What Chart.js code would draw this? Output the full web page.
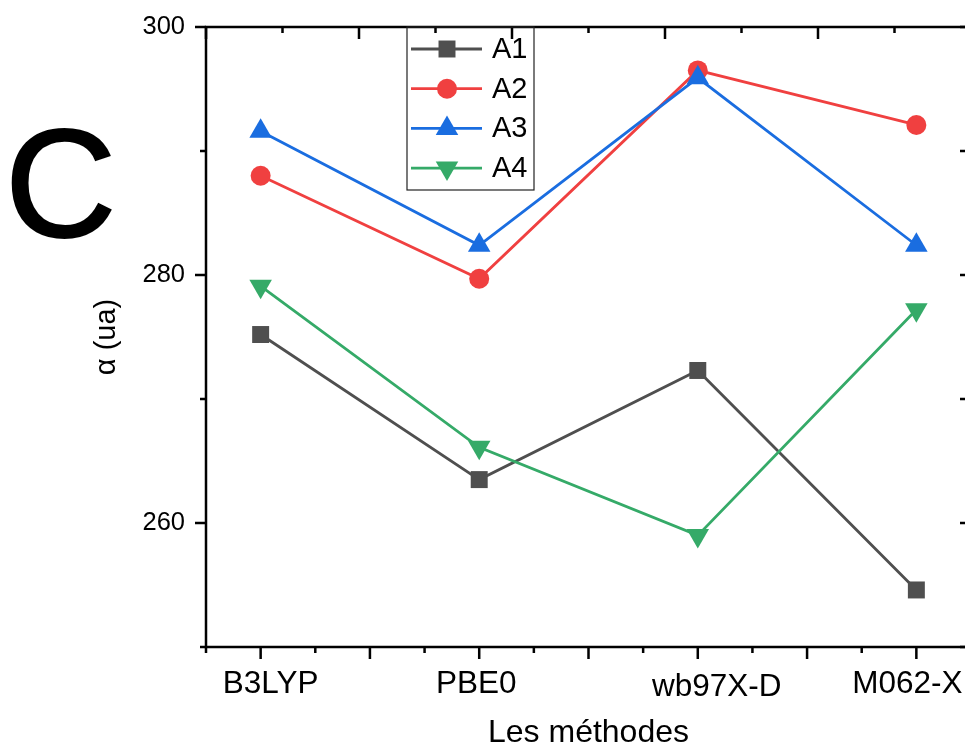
<!DOCTYPE html>
<html><head><meta charset="utf-8">
<script src="https://cdn.jsdelivr.net/npm/chart.js@4.4.0/dist/chart.umd.min.js"></script>
<style>
html,body{margin:0;padding:0;background:#fff;overflow:hidden;width:965px;height:749px;}
#wrap{position:relative;width:975px;height:749px;}
#panel{position:absolute;left:5px;top:107px;font:154px/1 'Liberation Sans',Arial,sans-serif;color:#000;-webkit-text-stroke:2.2px #000;}
canvas{position:absolute;left:0;top:0;}
</style></head><body>
<div id="wrap"><canvas id="c" width="975" height="749"></canvas><div id="panel">C</div></div>
<script>
const categories = ['B3LYP', 'PBE0', 'wb97X-D', 'M062-X'];
const seriesNames = ['A1', 'A2', 'A3', 'A4'];
const a1 = [275.2, 263.5, 272.3, 254.6];
const a2 = [288.0, 279.7, 296.5, 292.1];
const a3 = [291.6, 282.4, 295.9, 282.4];
const a4 = [279.1, 266.1, 259.0, 277.2];
const yTickLabels = [260, 280, 300];
const xTitle = 'Les méthodes';
const yTitle = 'α (ua)';

// small per-label nudges (px) of the category labels, as placed in the original
const xLabelDx = [10, -3, 19, -9];
const xLabelDy = [0, 0, 3, 0];

const colors = ['#4f4f4f', '#f04040', '#1a6de0', '#35aa68'];
const styles = [
  {pointStyle: 'rect', radius: 12, rotation: 0},
  {pointStyle: 'circle', radius: 10, rotation: 0},
  {pointStyle: 'triangle', radius: 13, rotation: 0},
  {pointStyle: 'triangle', radius: 13, rotation: 180}
];
const FONT = "'Liberation Sans', Arial, sans-serif";
Chart.defaults.font.family = FONT;
Chart.defaults.color = '#000';

const allSeries = [a1, a2, a3, a4];
const datasets = allSeries.map((vals, k) => ({
  label: seriesNames[k],
  data: vals.map((v, i) => ({x: i, y: v})),
  borderColor: colors[k],
  backgroundColor: colors[k],
  borderWidth: 2.8,
  pointStyle: styles[k].pointStyle,
  pointRadius: styles[k].radius,
  pointHoverRadius: styles[k].radius,
  pointRotation: styles[k].rotation,
  pointBorderWidth: 0,
  pointBackgroundColor: colors[k],
  tension: 0,
  order: 4 - k,
  clip: false
}));

function marker(ctx, style, x, y, color) {
  const r = style.radius;
  ctx.fillStyle = color;
  ctx.beginPath();
  if (style.pointStyle === 'circle') {
    ctx.arc(x, y, r, 0, Math.PI * 2);
  } else if (style.pointStyle === 'rect') {
    const s = r * Math.SQRT1_2;
    ctx.rect(x - s, y - s, 2 * s, 2 * s);
  } else {
    let rad = style.rotation * Math.PI / 180;
    ctx.moveTo(x + Math.sin(rad) * r, y - Math.cos(rad) * r);
    rad += 2 * Math.PI / 3;
    ctx.lineTo(x + Math.sin(rad) * r, y - Math.cos(rad) * r);
    rad += 2 * Math.PI / 3;
    ctx.lineTo(x + Math.sin(rad) * r, y - Math.cos(rad) * r);
    ctx.closePath();
  }
  ctx.fill();
}

const labelNudge = {
  id: 'labelNudge',
  beforeDraw(chart) {
    const xs = chart.scales.x;
    if (typeof xs._computeLabelItems !== 'function') return;
    const items = xs._computeLabelItems(chart.chartArea);
    items.forEach((it, i) => {
      const t = it.options && it.options.translation;
      if (t) { t[0] += xLabelDx[i] || 0; t[1] += xLabelDy[i] || 0; }
    });
    xs._labelItems = items;
  }
};

const framePlugin = {
  id: 'frame',
  afterDraw(chart) {
    const {ctx, chartArea: a, scales} = chart;
    const xs = scales.x, ys = scales.y, xt = scales.xTop;
    ctx.save();
    ctx.strokeStyle = '#000';
    ctx.lineWidth = 2.5;
    ctx.strokeRect(a.left, a.top, a.right - a.left, a.bottom - a.top);
    ctx.beginPath();
    for (let k = 0; ; k++) {
      const v = xs.min + k * 0.25;
      if (v > xs.max + 1e-9) break;
      const p = xs.getPixelForValue(v);
      const major = Math.abs(v * 2 - Math.round(v * 2)) < 1e-6;
      ctx.moveTo(p, a.bottom);
      ctx.lineTo(p, a.bottom + (major ? 12 : 6));
    }
    for (let v = xt.min; v <= xt.max; v++) {
      const p = xt.getPixelForValue(v);
      ctx.moveTo(p, a.top);
      ctx.lineTo(p, a.top + (v % 2 === 0 ? 12 : 6));
    }
    for (let v = ys.min; v <= ys.max + 1e-9; v += 10) {
      const p = ys.getPixelForValue(v);
      const major = yTickLabels.includes(v);
      ctx.moveTo(a.left, p);
      ctx.lineTo(a.left - (major ? 11 : 6), p);
      ctx.moveTo(a.right, p);
      ctx.lineTo(a.right - 11, p);
    }
    ctx.stroke();

    // legend
    const lx = 407, ly = a.top, lw = 127, lh = 163;
    ctx.lineWidth = 1.2;
    ctx.strokeStyle = '#222';
    ctx.strokeRect(lx, ly, lw, lh);
    ctx.font = '29px ' + FONT;
    ctx.textBaseline = 'middle';
    ctx.textAlign = 'left';
    chart.data.datasets.forEach((ds, k) => {
      const cy = ly + 22 + k * 39.7;
      ctx.strokeStyle = ds.borderColor;
      ctx.lineWidth = ds.borderWidth;
      ctx.beginPath();
      ctx.moveTo(lx + 4, cy);
      ctx.lineTo(lx + 75, cy);
      ctx.stroke();
      marker(ctx, styles[k], lx + 40, cy, ds.backgroundColor);
      ctx.fillStyle = '#000';
      ctx.fillText(ds.label, lx + 85, cy + 1);
    });
    ctx.restore();
  }
};

new Chart(document.getElementById('c'), {
  type: 'line',
  data: {datasets},
  options: {
    responsive: false,
    animation: false,
    events: [],
    layout: {autoPadding: false, padding: {top: 27, right: 4, left: 0, bottom: 0}},
    plugins: {legend: {display: false}, tooltip: {enabled: false}},
    scales: {
      x: {
        type: 'linear', position: 'bottom', min: -0.25, max: 3.25,
        afterBuildTicks: s => { s.ticks = categories.map((c, i) => ({value: i})); },
        ticks: {
          autoSkip: false, maxRotation: 0, padding: 18,
          font: {size: 31.5}, color: '#000',
          callback: v => categories[v]
        },
        grid: {display: false, drawTicks: false},
        border: {display: false},
        title: {display: true, text: xTitle, font: {size: 32, lineHeight: 1}, padding: {top: 0, bottom: 0}, color: '#000'},
        afterFit: s => { s.height = 102; s.paddingLeft = 0; s.paddingRight = 0; }
      },
      xTop: {
        type: 'linear', position: 'top', min: 0, max: 10, display: false
      },
      y: {
        type: 'linear', position: 'left', min: 250, max: 300,
        afterBuildTicks: s => { s.ticks = yTickLabels.map(v => ({value: v})); },
        ticks: {padding: 21, font: {size: 25.5}, color: '#000', callback: v => String(v)},
        grid: {display: false, drawTicks: false},
        border: {display: false},
        title: {display: true, text: yTitle, font: {size: 29, lineHeight: 1}, padding: {top: 92, bottom: 0}, color: '#000'},
        afterFit: s => { s.width = 206; s.paddingTop = 0; s.paddingBottom = 0; }
      }
    }
  },
  plugins: [labelNudge, framePlugin]
});
</script>
</body></html>
